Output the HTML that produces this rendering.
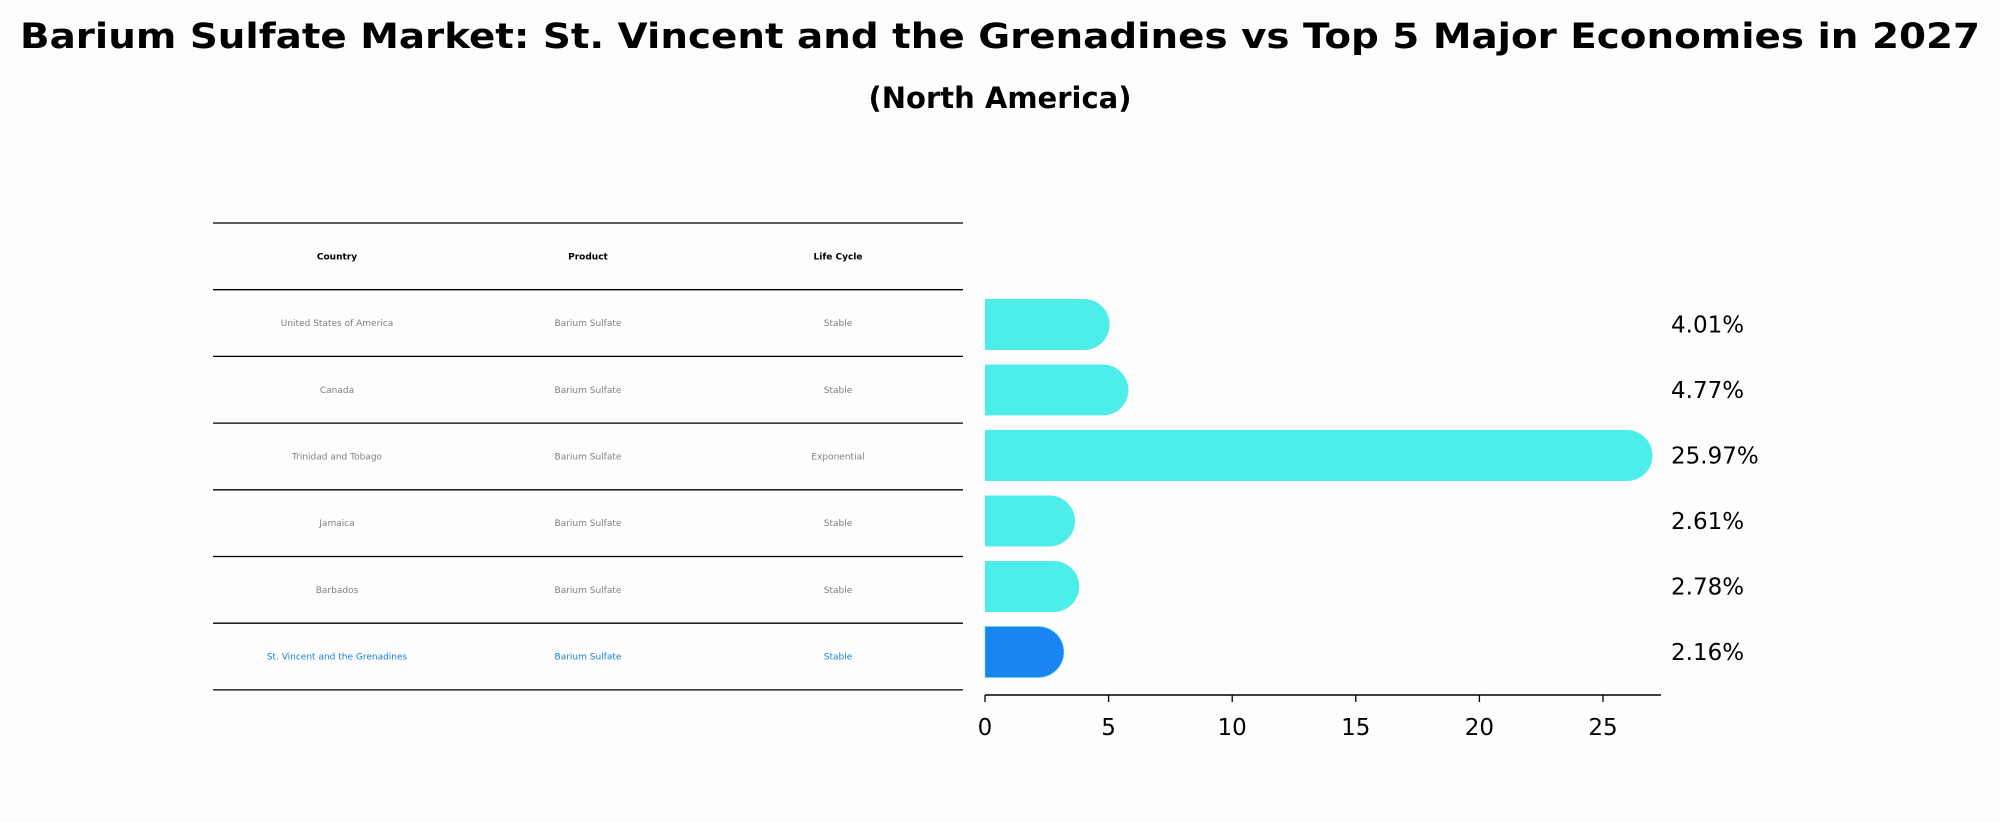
<!DOCTYPE html>
<html><head><meta charset="utf-8">
<style>
html,body{margin:0;padding:0;background:#fdfdfd;}
svg{display:block;font-family:"DejaVu Sans","Liberation Sans",sans-serif;}
</style></head>
<body>
<svg id="chart" width="2000" height="823" viewBox="0 0 2000 823" xmlns="http://www.w3.org/2000/svg">
<rect width="2000" height="823" fill="#fdfdfd"/>
<text x="1000" y="48" text-anchor="middle" font-size="35" font-weight="bold" textLength="1960" lengthAdjust="spacingAndGlyphs">Barium Sulfate Market: St. Vincent and the Grenadines vs Top 5 Major Economies in 2027</text>
<text x="1000" y="108" text-anchor="middle" font-size="29" font-weight="bold">(North America)</text>
<g id="table"></g>
<g id="bars"></g>
</svg>
<script>
const countries = ["United States of America","Canada","Trinidad and Tobago","Jamaica","Barbados","St. Vincent and the Grenadines"];
const products = ["Barium Sulfate","Barium Sulfate","Barium Sulfate","Barium Sulfate","Barium Sulfate","Barium Sulfate"];
const lifeCycles = ["Stable","Stable","Exponential","Stable","Stable","Stable"];
const values = [4.01,4.77,25.97,2.61,2.78,2.16];
const valueLabels = ["4.01%","4.77%","25.97%","2.61%","2.78%","2.16%"];
const xTicks = [0,5,10,15,20,25];

const NS="http://www.w3.org/2000/svg";
function mk(tag,attrs,parent){const e=document.createElementNS(NS,tag);for(const k in attrs)e.setAttribute(k,attrs[k]);parent.appendChild(e);return e;}

// table
const tbl=document.getElementById('table');
const tX0=213,tX1=963,tTop=223,rowH=66.7;
const colX=[337,588,838];
const headers=["Country","Product","Life Cycle"];
for(let i=0;i<=countries.length+1;i++){
  const l=mk('line',{x1:tX0,x2:tX1,y1:tTop+i*rowH,y2:tTop+i*rowH,stroke:'#000','stroke-width':1.3},tbl);
  
  
}
headers.forEach((h,j)=>{
  const t=mk('text',{x:colX[j],y:tTop+rowH/2+3,'text-anchor':'middle','font-size':9,'font-weight':'bold',fill:'#000'},tbl);
  t.textContent=h;
  
  
});
countries.forEach((c,i)=>{
  const y=tTop+(i+1.5)*rowH+3;
  const col=i===countries.length-1?'#1a7fd0':'#808080';
  [c,products[i],lifeCycles[i]].forEach((v,j)=>{
    const t=mk('text',{x:colX[j],y:y,'text-anchor':'middle','font-size':9,fill:col},tbl);
    t.textContent=v;
    
    
  });
});

// bars
const g=document.getElementById('bars');
const x0=985,unit=24.72,axisY=695,axisEnd=1661;
const xs=v=>x0+v*unit;
const barTop=299,pitch=65.5,barH=51;
values.forEach((v,i)=>{
  const cy=barTop+barH/2+i*pitch;
  const r=barH/2;
  const xe=xs(v);
  const last=i===values.length-1;
  const d=`M${x0},${cy-r} L${xe},${cy-r} A${r},${r} 0 0 1 ${xe},${cy+r} L${x0},${cy+r} Z`;
  const p=mk('path',{d:d,fill:last?'#1a85f0':'#4deeea'},g);
  if(last){p.setAttribute('stroke','#4deeea');p.setAttribute('stroke-width','1');p.setAttribute('stroke-dasharray','2,2');}
  
  
  const t=mk('text',{x:1671,y:cy+8,'font-size':23,fill:'#000'},g);
  t.textContent=valueLabels[i];
  
  
});
const ax=mk('line',{x1:x0,x2:axisEnd,y1:axisY,y2:axisY,stroke:'#000','stroke-width':1.5},g);


xTicks.forEach(v=>{
  const tk=mk('line',{x1:xs(v),x2:xs(v),y1:axisY,y2:axisY+7,stroke:'#000','stroke-width':1.3},g);
  
  
  const t=mk('text',{x:xs(v),y:735,'text-anchor':'middle','font-size':23,fill:'#000'},g);
  t.textContent=v;
  
  
});
</script>
</body></html>
